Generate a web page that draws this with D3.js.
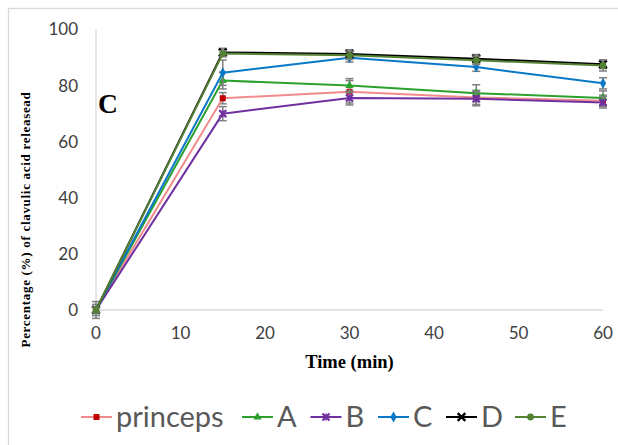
<!DOCTYPE html>
<html>
<head>
<meta charset="utf-8">
<script src="https://cdn.jsdelivr.net/npm/d3@7"></script>
<style>
  html, body { margin: 0; padding: 0; background: #fff; }
  svg { display: block; }
</style>
</head>
<body>
<svg id="chart" width="618" height="445"></svg>
<script>
// Release profile: time points (min) and mean release (%) per formulation
const times = [0, 15, 30, 45, 60];
const seriesNames = ["princeps", "A", "B", "C", "D", "E"];
const princeps = [0, 75.5, 77.8, 75.8, 74.6];
const seriesA  = [0, 81.8, 80.0, 77.3, 75.6];
const seriesB  = [0, 70.0, 75.6, 75.3, 74.0];
const seriesC  = [0, 84.6, 89.9, 86.6, 80.8];
const seriesD  = [0, 91.8, 91.3, 89.6, 87.6];
const seriesE  = [0, 91.4, 90.8, 89.0, 87.2];
// standard deviations (error bars)
const errPrinceps = [2, 2, 4, 2.5, 2];
const errA = [1, 3, 2.5, 3, 2.5];
const errB = [1, 2.5, 2.5, 2.5, 2];
const errC = [1, 4.5, 1.5, 1.5, 2];
const errD = [3, 1.5, 1.5, 1.5, 1.5];
const errE = [1, 1, 1.5, 1.5, 2];
const xTicks = [0, 10, 20, 30, 40, 50, 60];
const yTicks = [0, 20, 40, 60, 80, 100];

const values = [princeps, seriesA, seriesB, seriesC, seriesD, seriesE];
const errors = [errPrinceps, errA, errB, errC, errD, errE];
const styles = [
  { line: "#f28b8b", fill: "#c00000", shape: "square" },
  { line: "#2ca02c", fill: "#2ca02c", shape: "triangle" },
  { line: "#7030a0", fill: "#7030a0", shape: "star" },
  { line: "#0a78c8", fill: "#0a78c8", shape: "diamond" },
  { line: "#000000", fill: "#000000", shape: "cross" },
  { line: "#548235", fill: "#548235", shape: "circle" }
];
// legend entry start positions
const legendX = [81, 242, 310.5, 378, 446, 515];

const svg = d3.select("#chart");

// outer chart frame
svg.append("rect")
  .attr("x", 8.5).attr("y", 8.5)
  .attr("width", 700).attr("height", 500)
  .attr("fill", "none").attr("stroke", "#d9d9d9").attr("stroke-width", 1.3);

const x = d3.scaleLinear().domain([0, 60]).range([96, 603]);
const y = d3.scaleLinear().domain([0, 100]).range([310, 29.5]);

// axis lines
svg.append("line")
  .attr("x1", x(0)).attr("x2", x(0)).attr("y1", y(100)).attr("y2", y(0))
  .attr("stroke", "#d9d9d9").attr("stroke-width", 1.3);
svg.append("line")
  .attr("x1", x(0)).attr("x2", x(60)).attr("y1", y(0)).attr("y2", y(0))
  .attr("stroke", "#d9d9d9").attr("stroke-width", 1.3);

const tickFont = "Lato, 'Open Sans', sans-serif";

// y tick labels
svg.append("g").selectAll("text").data(yTicks).join("text")
  .attr("x", 78).attr("y", d => y(d))
  .attr("dy", "0.35em")
  .attr("text-anchor", "end")
  .attr("font-family", tickFont).attr("font-size", 17)
  .attr("fill", "#404040")
  .text(d => d);

// x tick labels
svg.append("g").selectAll("text").data(xTicks).join("text")
  .attr("x", d => x(d)).attr("y", 333)
  .attr("dy", "0.35em")
  .attr("text-anchor", "middle")
  .attr("font-family", tickFont).attr("font-size", 17)
  .attr("fill", "#404040")
  .text(d => d);

// axis titles
svg.append("text")
  .attr("x", x(30)).attr("y", 362).attr("dy", "0.35em")
  .attr("text-anchor", "middle")
  .attr("font-family", "'Liberation Serif', 'Times New Roman', serif")
  .attr("font-weight", "bold").attr("font-size", 18.5)
  .attr("fill", "#000")
  .text("Time (min)");

svg.append("text")
  .attr("transform", "translate(25,219.5) rotate(-90)")
  .attr("dy", "0.35em")
  .attr("text-anchor", "middle")
  .attr("font-family", "'Liberation Serif', 'Times New Roman', serif")
  .attr("font-weight", "bold").attr("font-size", 13)
  .attr("letter-spacing", 0.7)
  .attr("fill", "#000")
  .text("Percentage (%) of clavulic acid releasead");

// panel letter
svg.append("text")
  .attr("x", 98).attr("y", 113)
  .attr("font-family", "'Liberation Serif', 'Times New Roman', serif")
  .attr("font-weight", "bold").attr("font-size", 27.5)
  .attr("fill", "#000")
  .text("C");

function drawMarker(g, shape, cx, cy, color) {
  switch (shape) {
    case "square":
      g.append("rect").attr("x", cx - 3).attr("y", cy - 3).attr("width", 6).attr("height", 6).attr("fill", color);
      break;
    case "triangle":
      g.append("path").attr("d", d3.symbol(d3.symbolTriangle, 30)()).attr("transform", `translate(${cx},${cy})`).attr("fill", color);
      break;
    case "diamond":
      g.append("path").attr("d", d3.symbol(d3.symbolDiamond, 34)()).attr("transform", `translate(${cx},${cy})`).attr("fill", color);
      break;
    case "circle":
      g.append("circle").attr("cx", cx).attr("cy", cy).attr("r", 3.4).attr("fill", color);
      break;
    case "cross":
      g.append("path").attr("d", d3.symbol(d3.symbolX, 40)()).attr("transform", `translate(${cx},${cy})`)
        .attr("fill", "none").attr("stroke", color).attr("stroke-width", 2.4);
      break;
    case "star":
      g.append("path").attr("d", d3.symbol(d3.symbolX, 34)()).attr("transform", `translate(${cx},${cy})`)
        .attr("fill", "none").attr("stroke", color).attr("stroke-width", 2.2);
      g.append("line").attr("x1", cx).attr("x2", cx).attr("y1", cy - 3.5).attr("y2", cy + 3.5)
        .attr("stroke", color).attr("stroke-width", 1.6);
      break;
  }
}

const lineGen = d3.line().x((d, i) => x(times[i])).y(d => y(d));

values.forEach((vals, s) => {
  const g = svg.append("g");
  const st = styles[s];
  // error bars
  vals.forEach((v, i) => {
    const e = errors[s][i];
    const cx = x(times[i]);
    const eb = g.append("g").attr("stroke", "#7f7f7f").attr("stroke-width", 1.5);
    eb.append("line").attr("x1", cx).attr("x2", cx).attr("y1", y(v - e)).attr("y2", y(v + e));
    eb.append("line").attr("x1", cx - 4).attr("x2", cx + 4).attr("y1", y(v - e)).attr("y2", y(v - e));
    eb.append("line").attr("x1", cx - 4).attr("x2", cx + 4).attr("y1", y(v + e)).attr("y2", y(v + e));
  });
  g.append("path").datum(vals).attr("d", lineGen)
    .attr("fill", "none").attr("stroke", st.line).attr("stroke-width", 2)
    .attr("stroke-linejoin", "round");
  vals.forEach((v, i) => drawMarker(g, st.shape, x(times[i]), y(v), st.fill));
});

// legend
const legend = svg.append("g");
const ly = 417;
seriesNames.forEach((name, s) => {
  const st = styles[s];
  const lx = legendX[s];
  legend.append("line").attr("x1", lx).attr("x2", lx + 31).attr("y1", ly).attr("y2", ly)
    .attr("stroke", st.line).attr("stroke-width", 2);
  drawMarker(legend, st.shape, lx + 15.5, ly, st.fill);
  legend.append("text")
    .attr("x", lx + 35).attr("y", ly).attr("dy", "0.35em")
    .attr("font-family", tickFont).attr("font-size", 29)
    .attr("fill", "#595959")
    .text(name);
});
</script>
</body>
</html>
